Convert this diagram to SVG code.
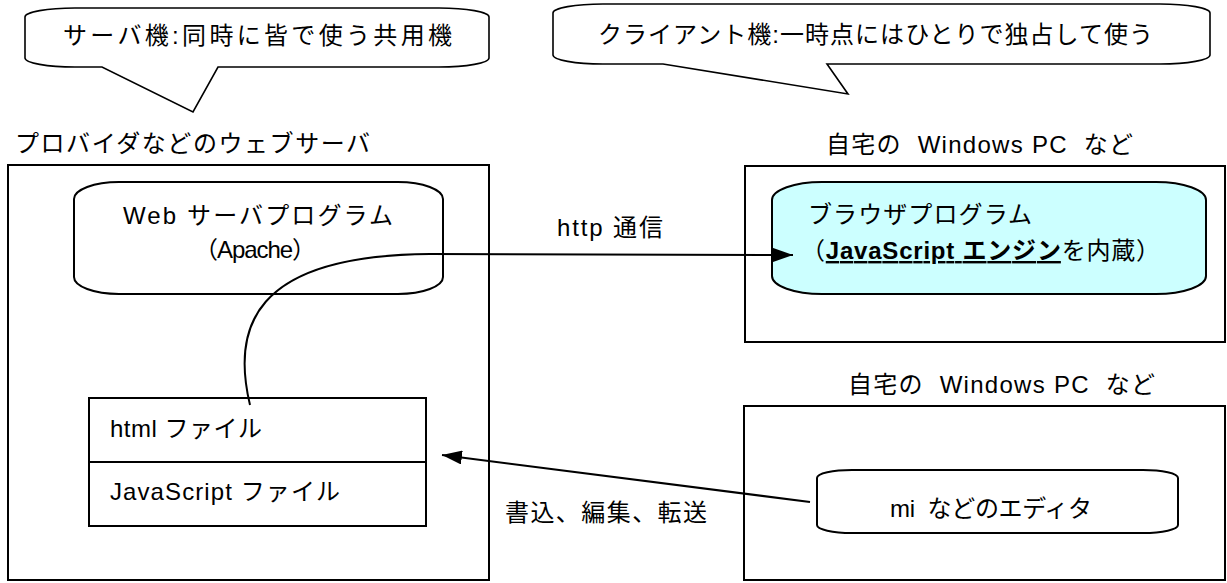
<svg xmlns="http://www.w3.org/2000/svg" width="1227" height="583" viewBox="0 0 1227 583">
  <style>
    .box { fill: #ffffff; stroke: #000000; stroke-width: 2; }
    .prog { fill: #ffffff; stroke: #000000; stroke-width: 2; }
    .browser { fill: #ccffff; stroke: #000000; stroke-width: 2; }
    .callout { fill: #ffffff; stroke: #000000; stroke-width: 1.6; }
    .t { font-family: "Liberation Sans", "Noto Sans CJK JP", sans-serif; font-size: 24px; fill: #000000; }
    .b { font-weight: bold; text-decoration: underline; }
    .conn { fill: none; stroke: #000000; stroke-width: 2; }
  </style>
  <defs>
    <marker id="head" markerUnits="userSpaceOnUse" viewBox="0 0 20 14" refX="20" refY="7" markerWidth="20" markerHeight="14" orient="auto">
      <path d="M0,0 L20,7 L0,14 Z" fill="#000000"/>
    </marker>
  </defs>

  <rect width="1227" height="583" fill="#ffffff"/>

  <!-- speech bubbles -->
  <g id="callout-server">
    <path class="callout" d="M75,8 L439,8 A50 9 0 0 1 489,17 L489,58 A50 9 0 0 1 439,67 L218,67 L193,112 L102,67 L75,67 A50 9 0 0 1 25,58 L25,17 A50 9 0 0 1 75,8 Z"/>
    <text class="t" x="63" y="44" textLength="389" lengthAdjust="spacing">サーバ機:同時に皆で使う共用機</text>
  </g>
  <g id="callout-client">
    <path class="callout" d="M603,4 L1160,4 A50 9 0 0 1 1210,13 L1210,55 A50 9 0 0 1 1160,64 L827,64 L848,94 L663,64 L603,64 A50 9 0 0 1 553,55 L553,13 A50 9 0 0 1 603,4 Z"/>
    <text class="t" x="598" y="43" textLength="555" lengthAdjust="spacing">クライアント機:一時点にはひとりで独占して使う</text>
  </g>

  <!-- web server host -->
  <g id="server">
    <text class="t" x="15" y="152" textLength="355" lengthAdjust="spacing">プロバイダなどのウェブサーバ</text>
    <rect class="box" x="8" y="165" width="481" height="415"/>
  </g>
  <g id="apache">
    <path class="prog" d="M119,182 L398,182 A45 17 0 0 1 443,199 L443,277 A45 17 0 0 1 398,294 L119,294 A45 17 0 0 1 74,277 L74,199 A45 17 0 0 1 119,182 Z"/>
    <text class="t" x="123" y="224" textLength="270" lengthAdjust="spacing">Web サーバプログラム</text>
    <text class="t" x="194" y="258" textLength="122" lengthAdjust="spacing">（Apache）</text>
  </g>
  <g id="files">
    <rect class="box" x="89" y="398" width="337" height="128"/>
    <line x1="89" y1="462" x2="426" y2="462" stroke="#000000" stroke-width="2"/>
    <text class="t" x="110" y="437" textLength="152" lengthAdjust="spacing">html ファイル</text>
    <text class="t" x="110" y="500" textLength="230" lengthAdjust="spacing">JavaScript ファイル</text>
  </g>

  <!-- client PC with browser -->
  <g id="client-pc">
    <text class="t" x="826" y="153" textLength="307" lengthAdjust="spacing" xml:space="preserve">自宅の  Windows PC  など</text>
    <rect class="box" x="745" y="166" width="480" height="176"/>
  </g>
  <g id="browser">
    <path class="browser" d="M822,182 L1156,182 A50 18 0 0 1 1206,200 L1206,276 A50 18 0 0 1 1156,294 L822,294 A50 18 0 0 1 772,276 L772,200 A50 18 0 0 1 822,182 Z"/>
    <text class="t" x="808" y="223" textLength="224" lengthAdjust="spacing">ブラウザプログラム</text>
    <text class="t" x="801" y="259" textLength="359" lengthAdjust="spacing">（<tspan class="b">JavaScript エンジン</tspan>を内蔵）</text>
  </g>

  <!-- editing PC -->
  <g id="editor-pc">
    <text class="t" x="848" y="393" textLength="307" lengthAdjust="spacing" xml:space="preserve">自宅の  Windows PC  など</text>
    <rect class="box" x="744" y="406" width="481" height="174"/>
  </g>
  <g id="editor">
    <path class="prog" d="M852,470 L1143,470 A35 8 0 0 1 1178,478 L1178,525 A35 8 0 0 1 1143,533 L852,533 A35 8 0 0 1 817,525 L817,478 A35 8 0 0 1 852,470 Z"/>
    <text class="t" x="890" y="517" textLength="202" lengthAdjust="spacing" xml:space="preserve">mi  などのエディタ</text>
  </g>

  <!-- connectors -->
  <g id="connectors">
    <path id="http-link" class="conn" d="M250,405 C232,330 250,255 430,254 L793,255" marker-end="url(#head)"/>
    <text class="t" x="557" y="236" textLength="106" lengthAdjust="spacing">http 通信</text>
    <path id="upload-link" class="conn" d="M810,502 L442,455" marker-end="url(#head)"/>
    <text class="t" x="505" y="521" textLength="202" lengthAdjust="spacing">書込、編集、転送</text>
  </g>
</svg>
